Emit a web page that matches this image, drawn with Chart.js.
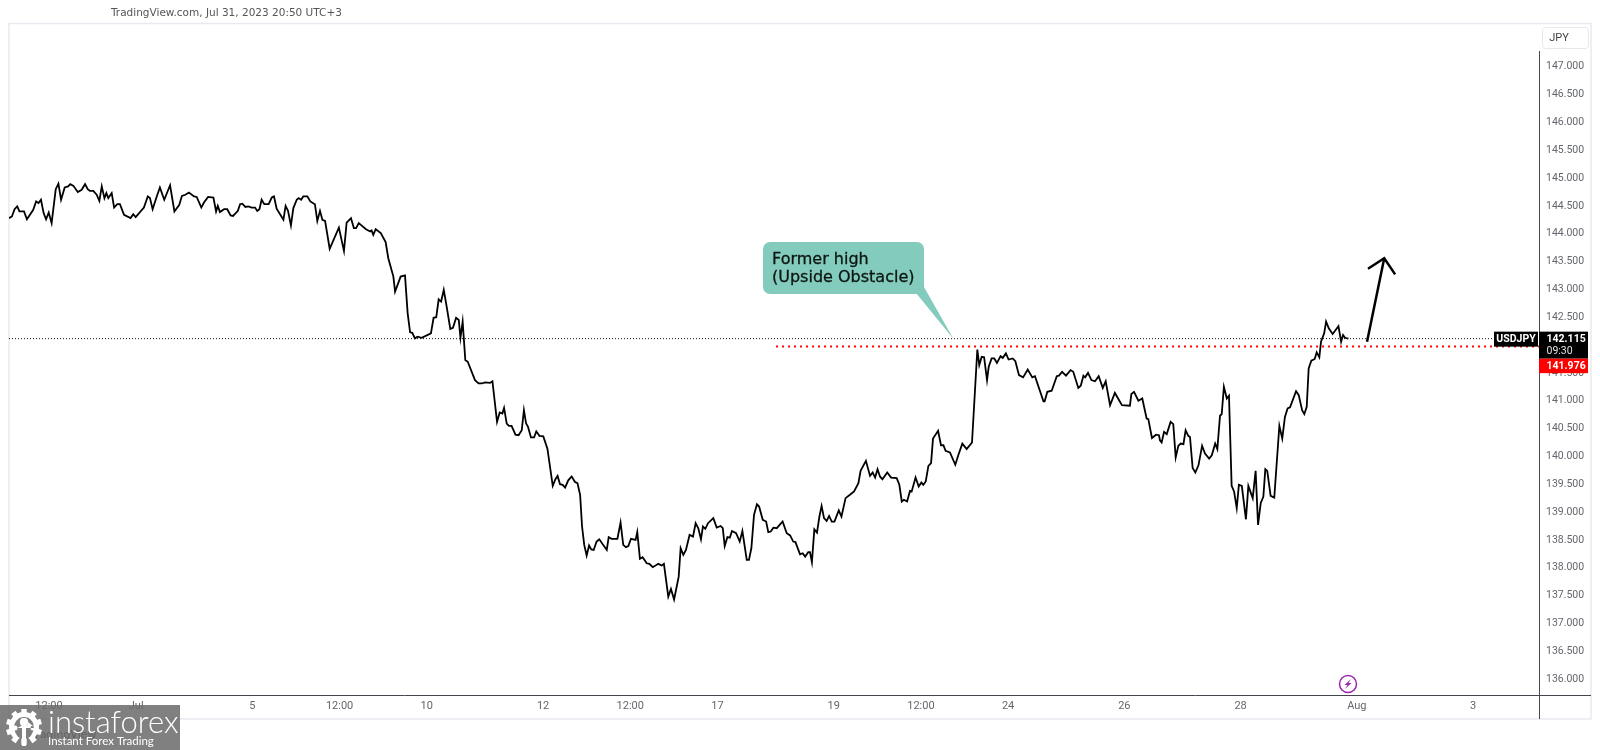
<!DOCTYPE html>
<html>
<head>
<meta charset="utf-8">
<title>USDJPY</title>
<script src="https://cdn.jsdelivr.net/npm/chart.js@4"></script>
<style>
  html, body { margin: 0; padding: 0; background: #fff; overflow: hidden; }
  canvas { display: block; }
</style>
</head>
<body>
<canvas id="chart" width="1600" height="750"></canvas>
<script>
// hourly bars, index counted from the left edge of the pane
const bars = [
  0,1.2,2.3,3.4,4.3,6.2,7.4,10,11.2,12.2,
  13.2,14.3,15.3,16.4,17.6,19.3,20.4,21.5,23,24.4,
  25.3,26.6,28.4,30,31.4,32.5,33.4,34.8,36.2,37.3,
  38.3,39.4,40.2,41,42.4,43.4,44.7,45.8,47.5,50.2,
  51.3,52.3,55.7,57.3,58.2,59.3,61,62.3,64.1,66.5,
  68.3,70.3,71.4,72.8,74.3,76.4,77.5,79.4,80.5,82.2,
  84.4,85.5,86.2,87.1,88.8,90.1,91.5,92.5,94.5,95.4,
  96.3,97.6,98.8,100.2,101.6,102.5,103.4,104.3,105.4,107.2,
  108.5,109.4,110.5,113.3,114.2,115.2,116.4,117.4,118.8,119.6,
  120.6,121.5,123.2,124.4,126.3,127.3,128.4,129.4,130.5,132.4,
  136.2,138.3,139.4,141.2,142.4,143.3,144.4,147.4,149.1,149.7,
  150.4,151.4,153.5,155.5,156.6,158.7,159.4,
  161.7,163.5,164.6,165.6,166.5,167.6,168.6,170.4,174.2,175.3,
  176.4,177.4,178.4,179.5,180.7,182.2,183.3,184.6,185.7,186.4,
  187.3,188.4,189.4,192.4,193.9,195.3,196.5,198.6,199.6,201.5,
  202.6,203.7,204.4,205.5,206.4,207.5,209.1,210.4,211.7,212.6,
  213.5,214.3,215.5,216.8,217.7,219,220.6,222.3,224.5,225.6,
  226.5,227.5,228.6,229.6,230.9,232.3,233.7,234.7,235.8,236.6,
  237.5,238.5,239.5,240.4,241.4,242.6,243.7,246.8,247.6,248.8,
  251.2,252.5,253.6,254.7,255.7,256.8,258.7,259.4,260.5,261.6,
  263.3,264.4,265.8,268.1,269.5,270.4,272.2,273.3,274.6,276.5,
  277.3,278.4,279.5,281,282.4,283.5,284.6,285.7,286.5,287.5,
  288.6,290.8,292.2,293.8,294.7,295.5,296.6,297.6,298.5,300.2,
  301.7,302.8,304.6,305.5,306.5,307.6,308.8,309.7,311.2,312.6,
  313.5,314.5,315.6,317,
  319.4,321.1,322.5,323.8,324.7,326.6,327.7,328.7,330,330.7,
  331.5,332.5,333.6,334.6,335.5,336.5,337.6,338.6,339.7,340.8,
  342.6,343.7,345.4,347.2,348.9,350.7,351.6,353.8,355.5,356.6,
  357.6,358.6,359.6,360.6,362.6,364.2,366.5,367.6,368.6,369.5,
  370.8,372,372.7,374.3,375.6,376.7,377.5,378.5,379.6,380.7,
  381.5,383.6,384.8,385.8,386.7,388.5,390.7,392,393.6,395.4,
  397.6,399.8,400.6,401.6,402.6,403.8,404.5,405.7,406.8,407.9,
  409.4,410.3,411.6,412.7,414.4,415.5,417,418.7,420.6,422.5,
  423.6,427.1,427.6,428.7,430.5,432.6,433.5,434.8,436.4,438.3,
  439.4,441.5,442.5,443.6,444.3,445.5,446.9,448.4,449.9,451.6,
  452.8,454.6,456.6,459.5,462.8,463.4,464.5,466.3,467.9,469.7,
  470.4,471.9,473.6,474.8,
  475.2,475.9,476.9,478,479.6,480.7,481.7,482.8,483.8,484.9,
  485.8,486.9,487.6,488.7,489.8,491.1,492.6,493.8,495.5,496.6,
  498,498.9,500,500.7,501.6,502.8,503.7,504.8,505.8,506.9,
  507.8,509,510.7,511.7,513.5,514.7,515.7,516.8,517.9,518.7,
  519.5,520.9,522.4,524.5,525.7,526.8,527.9,528.9,531.4,532.5,
  533.9,534.8,535.8,536.6,537.7,539.1,539.9,541,541.7,543,
  543.8,544.9,546.5,548.9,550,550.8,551.6,553
];

const closes = [
  144.28,144.31,144.44,144.49,144.40,144.40,144.26,144.43,144.58,144.55,
  144.61,144.37,144.26,144.38,144.19,144.80,144.90,144.61,144.83,144.85,
  144.89,144.86,144.75,144.79,144.89,144.80,144.77,144.77,144.70,144.59,
  144.85,144.64,144.73,144.64,144.73,144.47,144.53,144.53,144.34,144.28,
  144.35,144.30,144.47,144.67,144.64,144.44,144.67,144.83,144.61,144.87,
  144.40,144.52,144.68,144.70,144.74,144.67,144.66,144.47,144.56,144.66,
  144.65,144.40,144.50,144.39,144.44,144.44,144.33,144.32,144.41,144.53,
  144.54,144.48,144.49,144.47,144.47,144.41,144.44,144.61,144.53,144.53,
  144.65,144.67,144.45,144.25,144.50,144.41,144.15,144.46,144.61,144.64,
  144.61,144.67,144.67,144.58,144.53,144.23,144.41,144.25,144.23,143.73,
  144.11,143.69,144.20,144.28,144.10,144.10,144.19,144.08,144.04,144.06,
  143.98,144.08,144.01,143.85,143.56,143.23,142.96,
  143.23,143.25,142.57,142.23,142.22,142.12,142.15,142.13,142.21,142.49,
  142.50,142.82,142.78,142.99,142.69,142.29,142.31,142.49,142.45,142.13,
  142.42,141.73,141.70,141.37,141.31,141.31,141.33,141.32,141.35,140.62,
  140.79,140.77,140.87,140.59,140.55,140.55,140.39,140.38,140.47,140.83,
  140.59,140.53,140.34,140.34,140.45,140.37,140.36,140.14,139.47,139.59,
  139.65,139.50,139.49,139.44,139.57,139.64,139.54,139.52,139.31,138.74,
  138.41,138.22,138.40,138.33,138.32,138.47,138.51,138.32,138.55,138.52,
  138.52,138.81,138.41,138.37,138.39,138.52,138.50,138.64,138.16,138.19,
  138.08,138.07,138.01,138.07,138.04,138.07,137.48,137.62,137.43,137.84,
  138.35,138.23,138.32,138.59,138.56,138.80,138.71,138.51,138.74,138.70,
  138.80,138.89,138.72,138.75,138.71,138.39,138.55,138.54,138.66,138.62,
  138.47,138.66,138.14,138.14,138.35,138.95,139.14,139.10,138.86,138.83,
  138.64,138.65,138.72,138.71,
  138.83,138.62,138.58,138.47,138.46,138.24,138.26,138.20,138.28,138.28,
  138.10,138.69,138.63,138.92,139.11,138.89,138.84,138.93,138.83,138.83,
  139.03,138.92,139.25,139.31,139.37,139.52,139.74,139.92,139.65,139.71,
  139.62,139.77,139.64,139.59,139.71,139.62,139.61,139.49,139.19,139.22,
  139.19,139.38,139.37,139.62,139.46,139.53,139.49,139.55,139.83,139.88,
  140.32,140.46,140.20,140.20,140.10,140.07,139.85,140.03,140.23,140.13,
  140.25,141.92,141.64,141.79,141.78,141.37,141.61,141.76,141.76,141.68,
  141.80,141.77,141.85,141.74,141.76,141.71,141.46,141.42,141.56,141.42,
  141.44,140.99,140.99,141.16,141.18,141.44,141.45,141.52,141.45,141.55,
  141.52,141.23,141.27,141.45,141.42,141.50,141.37,141.35,141.44,141.23,
  141.35,140.92,141.14,140.92,140.91,141.12,141.16,141.00,141.04,140.68,
  140.67,140.33,140.39,140.38,
  140.29,140.25,140.44,140.40,140.62,140.58,139.98,140.19,140.23,140.22,
  140.47,140.37,140.35,139.79,139.71,139.84,140.19,140.05,139.96,140.02,
  140.23,140.13,140.73,140.76,141.25,141.04,141.09,139.47,139.37,139.07,
  139.49,139.47,138.87,139.47,139.25,139.74,138.77,139.16,139.28,139.77,
  139.74,139.29,139.26,140.55,140.32,140.71,140.86,140.88,141.17,141.10,
  140.83,140.76,140.89,141.58,141.72,141.75,141.87,141.78,142.06,142.21,
  142.42,142.30,142.20,142.34,142.06,142.18,142.13,142.115
];

const xTickBars = [16.5,52.5,100.5,136.5,172.5,220.5,256.5,292.5,340.5,376.5,412.5,460.5,508.5,556.5,604.5];
const xTickLabels = ['12:00','Jul','5','12:00','10','12','12:00','17','19','12:00','24','26','28','Aug','3'];
const yTicks = [136,136.5,137,137.5,138,138.5,139,139.5,140,140.5,141,141.5,142,142.5,143,143.5,144,144.5,145,145.5,146,146.5,147];

const lastPrice = 142.115;
const formerHigh = 141.976;
const formerHighStart = 316.7;
const calloutTipBar = 389.9;
const arrowShaftBars = [560.7, 567.8];
const arrowShaftPrices = [142.06, 143.56];
const arrowHeadBars = [561.1, 567.8, 572.3];
const arrowHeadPrices = [143.37, 143.56, 143.27];

const X_MIN = 0;
const X_MAX = 631.7;
const Y_MIN = 135.714;
const Y_MAX = 147.785;

const TICK_FONT = 'Roboto';
const TICK_COLOR = '#63666c';

function zip(xs, ys) {
  return xs.map((x, i) => ({ x: x, y: ys[i] }));
}

function drawFrame(ctx) {
  ctx.strokeStyle = '#e8eaf0';
  ctx.lineWidth = 1.5;
  ctx.strokeRect(9, 23.5, 1582, 695.5);

  ctx.strokeStyle = '#43464d';
  ctx.lineWidth = 1;
  ctx.beginPath();
  ctx.moveTo(9, 695.5);
  ctx.lineTo(1591, 695.5);
  ctx.moveTo(1539.5, 51);
  ctx.lineTo(1539.5, 719);
  ctx.stroke();

  ctx.fillStyle = '#555';
  ctx.font = '10.5px "DejaVu Sans"';
  ctx.textAlign = 'left';
  ctx.textBaseline = 'middle';
  ctx.fillText('TradingView.com, Jul 31, 2023 20:50 UTC+3', 111, 13.5);

  ctx.fillStyle = '#fff';
  ctx.strokeStyle = '#e6e8ee';
  ctx.beginPath();
  ctx.roundRect(1542.5, 27.5, 46, 21, 3);
  ctx.fill();
  ctx.stroke();
  ctx.fillStyle = '#444';
  ctx.font = '11px ' + TICK_FONT;
  ctx.textAlign = 'center';
  ctx.fillText('JPY', 1559, 38.5);
}

function drawCallout(ctx, chart) {
  const tipX = chart.scales.x.getPixelForValue(calloutTipBar);
  const tipY = chart.scales.y.getPixelForValue(lastPrice);
  ctx.fillStyle = '#83ccbd';
  ctx.beginPath();
  ctx.roundRect(763, 242, 161, 52, 7);
  ctx.fill();
  ctx.beginPath();
  ctx.moveTo(916, 293);
  ctx.lineTo(924, 287);
  ctx.lineTo(tipX, tipY);
  ctx.closePath();
  ctx.fill();
  ctx.fillStyle = '#0c1512';
  ctx.strokeStyle = '#0c1512';
  ctx.lineWidth = 0.3;
  ctx.font = '16px "DejaVu Sans"';
  ctx.textAlign = 'left';
  ctx.textBaseline = 'middle';
  ctx.fillText('Former high', 772, 259.5);
  ctx.strokeText('Former high', 772, 259.5);
  ctx.fillText('(Upside Obstacle)', 772, 277.5);
  ctx.strokeText('(Upside Obstacle)', 772, 277.5);
}

function drawPriceTags(ctx, chart) {
  const y = chart.scales.y.getPixelForValue(lastPrice);
  ctx.textBaseline = 'middle';

  ctx.fillStyle = '#000';
  ctx.fillRect(1494, y - 7, 44, 15);
  ctx.fillRect(1539, y - 7, 49, 27);
  ctx.fillStyle = '#f00';
  ctx.fillRect(1539, y + 20, 49, 14.5);

  ctx.fillStyle = '#fff';
  ctx.font = 'bold 10.5px ' + TICK_FONT;
  ctx.textAlign = 'center';
  ctx.fillText('USDJPY', 1516, y + 0.5);
  ctx.textAlign = 'left';
  ctx.fillText(lastPrice.toFixed(3), 1546.5, y + 0.5);
  ctx.fillText(formerHigh.toFixed(3), 1546.5, y + 27.5);
  ctx.font = '10.5px ' + TICK_FONT;
  ctx.fillStyle = '#e0e0e0';
  ctx.fillText('09:30', 1546.5, y + 12.5);
}

function drawBolt(ctx) {
  ctx.strokeStyle = '#9c27b0';
  ctx.lineWidth = 1.5;
  ctx.beginPath();
  ctx.arc(1348, 684, 8.5, 0, Math.PI * 2);
  ctx.stroke();
  ctx.fillStyle = '#9c27b0';
  ctx.beginPath();
  ctx.moveTo(1351, 679);
  ctx.lineTo(1344.5, 685);
  ctx.lineTo(1347.5, 685);
  ctx.lineTo(1345, 689);
  ctx.lineTo(1351.5, 683);
  ctx.lineTo(1348.5, 683);
  ctx.closePath();
  ctx.fill();
}

function drawGear(ctx, cx, cy) {
  ctx.fillStyle = '#fff';
  for (let i = 0; i < 10; i++) {
    const a = (i / 10) * Math.PI * 2;
    ctx.save();
    ctx.translate(cx, cy);
    ctx.rotate(a);
    ctx.fillRect(-2.7, -18, 5.4, 7);
    ctx.restore();
  }
  ctx.strokeStyle = '#fff';
  ctx.lineWidth = 5;
  ctx.beginPath();
  ctx.arc(cx, cy, 12.5, Math.PI * 0.72, Math.PI * 2.28);
  ctx.stroke();
  ctx.fillStyle = '#808080';
  ctx.beginPath();
  ctx.arc(cx, cy + 3, 9, 0, Math.PI * 2);
  ctx.fill();
  ctx.fillStyle = '#fff';
  ctx.beginPath();
  ctx.arc(cx, cy - 5, 4, 0, Math.PI * 2);
  ctx.fill();
  ctx.arc(cx - 9, cy + 1, 2.5, 0, Math.PI * 2);
  ctx.arc(cx + 9, cy + 1, 2.5, 0, Math.PI * 2);
  ctx.fill();
  ctx.fillRect(cx - 2, cy - 3, 4, 22);
}

function drawWatermark(ctx) {
  ctx.fillStyle = '#333';
  ctx.font = '11px "DejaVu Sans"';
  ctx.textAlign = 'left';
  ctx.textBaseline = 'middle';
  ctx.fillText('TradingView', 30, 735);

  ctx.fillStyle = 'rgba(106,106,106,0.85)';
  ctx.fillRect(0, 705, 180, 45);

  drawGear(ctx, 24, 727);

  ctx.fillStyle = '#fff';
  ctx.font = '300 31px Lato';
  ctx.fillText('instaforex', 48, 723);
  ctx.font = '11.5px Lato';
  ctx.fillText('Instant Forex Trading', 48, 741.5);
}

const chromePlugin = {
  id: 'chrome',
  beforeDatasetsDraw(chart) {
    drawFrame(chart.ctx);
  },
  afterDatasetsDraw(chart) {
    const ctx = chart.ctx;
    ctx.save();
    drawCallout(ctx, chart);
    drawPriceTags(ctx, chart);
    drawBolt(ctx);
    drawWatermark(ctx);
    ctx.restore();
  }
};

new Chart(document.getElementById('chart').getContext('2d'), {
  type: 'line',
  data: {
    datasets: [
      {
        label: 'Last price',
        data: zip([X_MIN, X_MAX], [lastPrice, lastPrice]),
        borderColor: '#111',
        borderWidth: 1,
        borderDash: [1, 2],
        pointRadius: 0
      },
      {
        label: 'Former high',
        data: zip([formerHighStart, X_MAX], [formerHigh, formerHigh]),
        borderColor: '#f00',
        borderWidth: 2,
        borderDash: [2, 4],
        pointRadius: 0
      },
      {
        label: 'USDJPY',
        data: zip(bars, closes),
        borderColor: '#000',
        borderWidth: 1.8,
        borderJoinStyle: 'miter',
        tension: 0,
        pointRadius: 0
      },
      {
        label: 'Arrow shaft',
        data: zip(arrowShaftBars, arrowShaftPrices),
        borderColor: '#000',
        borderWidth: 2.5,
        pointRadius: 0
      },
      {
        label: 'Arrow head',
        data: zip(arrowHeadBars, arrowHeadPrices),
        borderColor: '#000',
        borderWidth: 2.5,
        pointRadius: 0
      }
    ]
  },
  options: {
    responsive: false,
    animation: false,
    layout: { padding: { left: 9, top: 23, right: 9, bottom: 31 } },
    plugins: { legend: { display: false }, tooltip: { enabled: false } },
    scales: {
      x: {
        type: 'linear',
        min: X_MIN,
        max: X_MAX,
        grid: { display: false, tickLength: 0 },
        border: { display: false },
        afterFit(scale) { scale.height = 24; },
        afterBuildTicks(scale) { scale.ticks = xTickBars.map(v => ({ value: v })); },
        ticks: {
          autoSkip: false,
          maxRotation: 0,
          padding: 5,
          color: TICK_COLOR,
          font: { family: TICK_FONT, size: 11 },
          callback: (value, i) => xTickLabels[i]
        }
      },
      y: {
        position: 'right',
        min: Y_MIN,
        max: Y_MAX,
        grid: { display: false, tickLength: 0 },
        border: { display: false },
        afterFit(scale) { scale.width = 52; },
        afterBuildTicks(scale) { scale.ticks = yTicks.map(v => ({ value: v })); },
        ticks: {
          autoSkip: false,
          padding: 7,
          color: TICK_COLOR,
          font: { family: TICK_FONT, size: 10.5 },
          callback: value => value.toFixed(3)
        }
      }
    }
  },
  plugins: [chromePlugin]
});
</script>
</body>
</html>
